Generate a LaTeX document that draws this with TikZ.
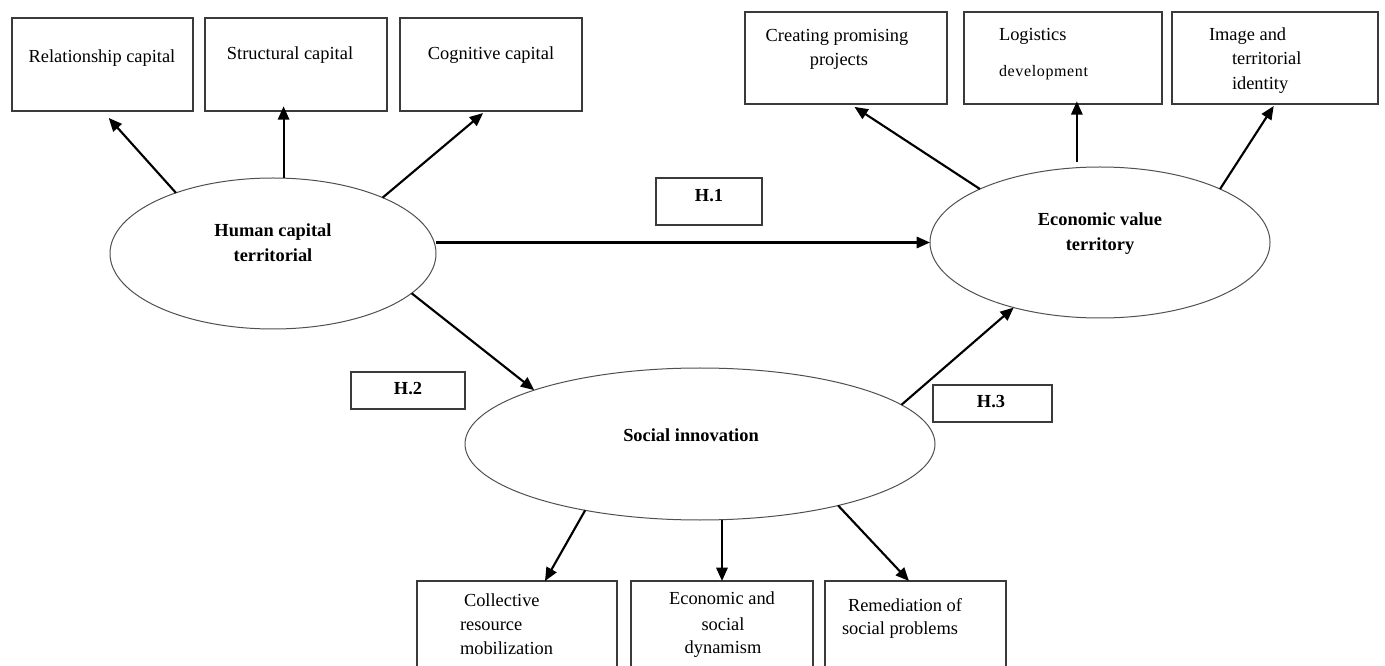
\documentclass[tikz,border=0pt]{standalone}
\usepackage{fontspec}
\setmainfont{Liberation Serif}
\usetikzlibrary{shapes.geometric,arrows.meta,calc}
\definecolor{boxline}{HTML}{3A3A3A}
\definecolor{ovalline}{HTML}{505050}
\begin{document}
\begin{tikzpicture}[x=0.75pt,y=-0.75pt,
  box/.style={draw=boxline, line width=0.8pt, inner sep=0pt, outer sep=0pt},
  oval/.style={ellipse, draw=ovalline, line width=0.75pt, inner sep=0pt, outer sep=0pt},
  txt/.style={inner sep=0pt, outer sep=0pt, anchor=base, font=\fontsize{13.8}{18}\selectfont},
  txtw/.style={txt, anchor=base west},
  bold/.style={txt, font=\fontsize{13.8}{18}\selectfont\bfseries},
  arr/.style={line width=1.6pt, -{Triangle[length=10pt,width=8.5pt]}},
]
\useasboundingbox (0,0) rectangle (1385,666);
\fill[white] (0,0) rectangle (1385,666);
\clip (0,0) rectangle (1385,666);

% top-left indicator boxes
\node[box, minimum width=181*0.75pt, minimum height=93*0.75pt] (rel) at (102.5,64.5) {};
\node[box, minimum width=182*0.75pt, minimum height=93*0.75pt] (str) at (296,64.5) {};
\node[box, minimum width=182*0.75pt, minimum height=93*0.75pt] (cog) at (491,64.5) {};
\node[txt] (trel) at (102,63) {Relationship capital};
\node[txt] (tstr) at (290,60) {Structural capital};
\node[txt] (tcog) at (491,60) {Cognitive capital};

% top-right indicator boxes
\node[box, minimum width=202*0.75pt, minimum height=92*0.75pt] (cre) at (846,58) {};
\node[box, minimum width=198*0.75pt, minimum height=92*0.75pt] (log) at (1063,58) {};
\node[box, minimum width=206*0.75pt, minimum height=92*0.75pt] (img) at (1275,58) {};
\node[txt] (tcre1) at (837,42) {Creating promising};
\node[txt] (tcre2) at (839,66) {projects};
\node[txtw] (tlog1) at (999,41) {Logistics};
\node[txtw, font=\fontsize{12}{16}\selectfont\addfontfeature{LetterSpace=4}] (tlog2) at (999,77) {development};
\node[txtw] (timg1) at (1209,41) {Image and};
\node[txtw] (timg2) at (1232,65) {territorial};
\node[txtw] (timg3) at (1232,90) {identity};

% latent constructs
\node[oval, minimum width=326*0.75pt, minimum height=151*0.75pt] (hct) at (273,253.5) {};
\node[oval, minimum width=340*0.75pt, minimum height=151*0.75pt] (evt) at (1100,242.5) {};
\node[oval, minimum width=470*0.75pt, minimum height=152*0.75pt] (si) at (700,444) {};
\node[bold] (thct1) at (273,237) {Human capital};
\node[bold] (thct2) at (273,262) {territorial};
\node[bold] (tevt1) at (1100,226) {Economic value};
\node[bold] (tevt2) at (1100,251) {territory};
\node[bold] (tsi) at (691,441) {Social innovation};

% hypothesis labels
\node[box, minimum width=106*0.75pt, minimum height=47*0.75pt] (h1) at (709,201.5) {};
\node[box, minimum width=114*0.75pt, minimum height=37*0.75pt] (h2) at (408,390.5) {};
\node[box, minimum width=119*0.75pt, minimum height=37*0.75pt] (h3) at (992.5,403.5) {};
\node[bold] (th1) at (709,202) {H.1};
\node[bold] (th2) at (408,395) {H.2};
\node[bold] (th3) at (991,408) {H.3};

% bottom indicator boxes (run past the lower edge)
\node[box, minimum width=200*0.75pt, minimum height=119*0.75pt] (col) at (517,640.5) {};
\node[box, minimum width=182*0.75pt, minimum height=119*0.75pt] (eco) at (722,640.5) {};
\node[box, minimum width=181*0.75pt, minimum height=119*0.75pt] (rem) at (915.5,640.5) {};
\node[txtw] (tcol1) at (464,606) {Collective};
\node[txtw] (tcol2) at (460,630) {resource};
\node[txtw] (tcol3) at (460,654) {mobilization};
\node[txt] (teco1) at (722,604) {Economic and};
\node[txt] (teco2) at (723,630) {social};
\node[txt] (teco3) at (723,653) {dynamism};
\node[txtw] (trem1) at (848,611) {Remediation of};
\node[txtw] (trem2) at (842,634) {social problems};

% connectors
\coordinate (logfoot) at ($(log.south west)!0.57!(log.south east)$);
\draw[arr, shorten >=7pt] (hct.148) -- (rel.south);
\draw[arr, shorten >=-3.5pt] (hct.82) -- (hct.82 |- str.south);
\draw[arr, shorten >=2.4pt] (hct.27) -- ($(cog.south west)!0.47!(cog.south east)$);
\draw[arr] (hct.east |- evt.west) -- (evt.west);
\draw[arr] (hct.-16) -- (si.162);
\draw[arr] (si.11) -- (evt.217);
\draw[arr, shorten >=4pt] (evt.156) -- ($(cre.south west)!0.52!(cre.south east)$);
\draw[arr, shorten <=3.5pt, shorten >=-2pt] (logfoot |- evt.north) -- (logfoot);
\draw[arr, shorten >=1.8pt] (evt.24) -- (img.south);
\draw[arr] (si.210) -- ($(col.north west)!0.64!(col.north east)$);
\draw[arr] (eco.north |- si.south) -- (eco.north);
\draw[arr] (si.-24) -- ($(rem.north west)!0.464!(rem.north east)$);
\end{tikzpicture}
\end{document}
